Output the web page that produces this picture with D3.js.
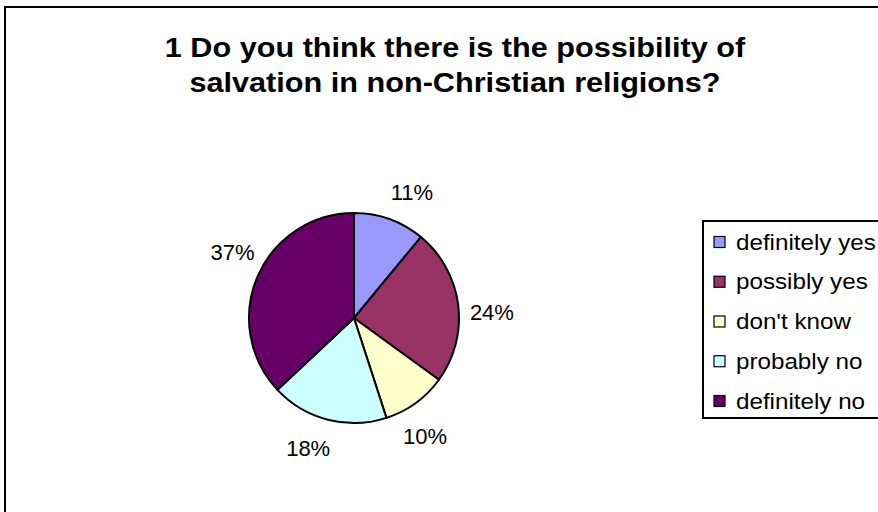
<!DOCTYPE html>
<html>
<head>
<meta charset="utf-8">
<script src="https://cdn.jsdelivr.net/npm/d3@7"></script>
<style>
  body { margin: 0; background: #fff; }
  text { font-family: "Liberation Sans", Arial, sans-serif; fill: #000; }
</style>
</head>
<body>
<div id="chart-area"></div>
<script>
let categories = ["definitely yes", "possibly yes", "don't know", "probably no", "definitely no"];
let values = [11, 24, 10, 18, 37];
let colors = ["#9999ff", "#993366", "#ffffcc", "#ccffff", "#660066"];
let titleLines = ["1  Do you think there is the possibility of", "salvation in non-Christian religions?"];

let width = 878, height = 512;

let svg = d3.select("#chart-area")
    .append("svg")
    .attr("width", width)
    .attr("height", height);

// chart frame (runs off right and bottom)
svg.append("rect")
    .attr("x", 5).attr("y", 7)
    .attr("width", 900).attr("height", 540)
    .attr("fill", "#fff")
    .attr("stroke", "#000")
    .attr("stroke-width", 2);

// title, a bit stretched sideways like the original
svg.append("g")
    .attr("transform", "translate(455,0) scale(1.135,1)")
    .selectAll("text")
    .data(titleLines)
    .join("text")
    .attr("x", 0)
    .attr("y", (d, i) => 57 + i * 35)
    .attr("text-anchor", "middle")
    .attr("font-size", "27px")
    .attr("font-weight", "bold")
    .text(d => d);

// pie
let cx = 354, cy = 318, r = 105;
let color = d3.scaleOrdinal().domain(categories).range(colors);
let pie = d3.pie().sort(null).value(d => d.value);
let arcs = pie(categories.map((c, i) => ({name: c, value: values[i]})));
let arc = d3.arc().innerRadius(0).outerRadius(r);

let g = svg.append("g").attr("transform", `translate(${cx},${cy})`);

g.selectAll("path")
    .data(arcs)
    .join("path")
    .attr("d", arc)
    .attr("fill", d => color(d.data.name))
    .attr("stroke", "#000")
    .attr("stroke-width", 2);

// outside labels (slightly turned clockwise, like excel puts them)
let total = d3.sum(values);
let labelArc = d3.arc().innerRadius(138).outerRadius(138);
let turn = 5 * Math.PI / 180;
g.selectAll("text.pct")
    .data(arcs)
    .join("text")
    .attr("class", "pct")
    .attr("font-size", "22px")
    .attr("text-anchor", "middle")
    .attr("dy", "0.35em")
    .attr("transform", d => {
        let p = labelArc.centroid({startAngle: d.startAngle + turn, endAngle: d.endAngle + turn});
        return `translate(${p[0]},${p[1]})`;
    })
    .text(d => Math.round(d.data.value / total * 100) + "%");

// legend
let legend = svg.append("g").attr("transform", "translate(703,221)");
legend.append("rect")
    .attr("width", 200).attr("height", 197)
    .attr("fill", "#fff")
    .attr("stroke", "#000")
    .attr("stroke-width", 2);

let ly = d3.scalePoint().domain(categories).range([21, 180]);

let item = legend.selectAll("g.item")
    .data(categories)
    .join("g")
    .attr("class", "item")
    .attr("transform", d => `translate(0,${ly(d)})`);

item.append("rect")
    .attr("x", 11).attr("y", -5.5)
    .attr("width", 11).attr("height", 11)
    .attr("fill", d => color(d))
    .attr("stroke", "#000")
    .attr("stroke-width", 1.2);

item.append("text")
    .attr("transform", "translate(33,0) scale(1.1,1)")
    .attr("dy", "0.35em")
    .attr("font-size", "22px")
    .text(d => d);
</script>
</body>
</html>
